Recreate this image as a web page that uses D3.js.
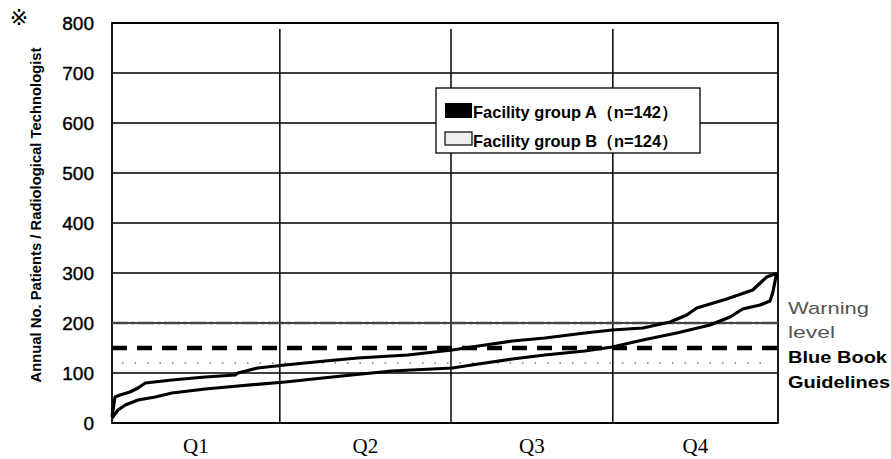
<!DOCTYPE html>
<html><head><meta charset="utf-8">
<script src="https://cdn.jsdelivr.net/npm/d3@7"></script>
<style>body{margin:0;background:#fff}svg{display:block}</style>
</head><body><div id="chart"></div>
<script>
// ---- data ----
const yTicks = [0,100,200,300,400,500,600,700,800];
const quarterLabels = ["Q1","Q2","Q3","Q4"];
const quarterBounds = [25.2, 50.9, 75.2]; // percentile positions of the quartile lines
const groupAPct = [0,0.45,1.2,2.7,3.9,5.0,9.0,14.0,18.5,18.9,21.9,26.0,32.0,36.9,44.4,51.1,55.0,60.1,65.0,71.0,75.1,79.7,83.8,86.3,87.8,92.3,96.2,98.3,99.5,100];
const groupAVal = [12,52,56,62,70,80,86,92,96,100,110,116,124,130,136,146,154,164,170,180,186,190,202,216,230,248,266,292,298,298];
const groupBPct = [0,0.9,2.0,3.9,6.5,9.0,14.0,18.9,26.0,34.5,42.0,51.1,55.0,60.1,65.0,71.0,75.1,79.7,84.8,89.8,92.8,94.7,97.3,98.8,99.2,99.8];
const groupBVal = [10,26,36,46,52,60,68,74,82,94,104,110,118,128,136,144,152,166,180,196,212,228,236,244,260,300];
const legendLabels = ["Facility group A（n=142）","Facility group B（n=124）"];
const warningLevel = 200;
const blueBookLevel = 150;
const bandLevel = 120;

// ---- layout ----
const W = 891, H = 459;
const m = {left:112, right:113, top:23, bottom:36};
const svg = d3.select("#chart").append("svg").attr("width",W).attr("height",H);
const x = d3.scaleLinear().domain([0,100]).range([m.left, W-m.right]);
const y = d3.scaleLinear().domain([0,800]).range([H-m.bottom, m.top]);

// gridlines
svg.append("g").selectAll("line").data(yTicks).join("line")
  .attr("x1",x(0)).attr("x2",x(100)).attr("y1",d=>y(d)).attr("y2",d=>y(d))
  .attr("stroke","#000").attr("stroke-width",1.5);
svg.append("g").selectAll("line").data(quarterBounds).join("line")
  .attr("x1",d=>x(d)).attr("x2",d=>x(d)).attr("y1",y(0)).attr("y2",y(800)+6)
  .attr("stroke","#000").attr("stroke-width",1.5);
svg.append("rect").attr("x",x(0)).attr("y",y(800)).attr("width",x(100)-x(0)).attr("height",y(0)-y(800))
  .attr("fill","none").attr("stroke","#000").attr("stroke-width",1.8);

// y axis labels
const yAxis = d3.axisLeft(y).tickValues(yTicks).tickSize(0).tickPadding(18);
const ya = svg.append("g").attr("transform",`translate(${x(0)},0)`).call(yAxis);
ya.select(".domain").remove();
ya.selectAll("text").attr("font-family","Liberation Sans, Arial, sans-serif").attr("font-size",19).attr("fill","#000").attr("dy","0.35em")
  .attr("stroke","#000").attr("stroke-width",0.4);

// x quarter labels
const qCenters = [0, ...quarterBounds, 100];
svg.append("g").selectAll("text").data(quarterLabels).join("text")
  .attr("x",(d,i)=>(x(qCenters[i])+x(qCenters[i+1]))/2)
  .attr("y",453).attr("text-anchor","middle")
  .attr("font-family","Liberation Serif, Times New Roman, serif").attr("font-size",21).text(d=>d);

// reference lines
svg.append("line").attr("x1",x(0)).attr("x2",x(100)).attr("y1",y(warningLevel)).attr("y2",y(warningLevel))
  .attr("stroke","#444").attr("stroke-width",2.6).attr("stroke-dasharray","16,3,4,3");
svg.append("line").attr("x1",x(0)).attr("x2",x(100)).attr("y1",y(blueBookLevel)).attr("y2",y(blueBookLevel))
  .attr("stroke","#000").attr("stroke-width",4.5).attr("stroke-dasharray","15,10");
svg.append("line").attr("x1",x(0)+10).attr("x2",x(100)-10).attr("y1",y(bandLevel)).attr("y2",y(bandLevel))
  .attr("stroke","#777").attr("stroke-width",1.4).attr("stroke-dasharray","1.5,11");

// curves
const line = d3.line().x(d=>x(d[0])).y(d=>y(d[1])).curve(d3.curveLinear);
const dataA = groupAPct.map((p,i)=>[p,groupAVal[i]]);
const dataB = groupBPct.map((p,i)=>[p,groupBVal[i]]);
svg.append("path").attr("d",line(dataA)).attr("fill","none").attr("stroke","#000").attr("stroke-width",3.2).attr("stroke-linejoin","round");
svg.append("path").attr("d",line(dataB)).attr("fill","none").attr("stroke","#000").attr("stroke-width",3.2).attr("stroke-linejoin","round");

// legend
const lg = svg.append("g");
lg.append("rect").attr("x",436).attr("y",88).attr("width",264).attr("height",65).attr("fill","#fff").attr("stroke","#000").attr("stroke-width",1.3);
lg.append("rect").attr("x",445).attr("y",103).attr("width",27).attr("height",15).attr("fill","#000");
lg.append("rect").attr("x",445).attr("y",132).attr("width",27).attr("height",13).attr("fill","#eee").attr("stroke","#000").attr("stroke-width",1.2);
lg.selectAll("text").data(legendLabels).join("text")
  .attr("x",473).attr("y",(d,i)=>118+i*29)
  .attr("font-family","Liberation Sans, Arial, sans-serif").attr("font-weight","bold").attr("font-size",16.5)
  .attr("textLength",205).attr("lengthAdjust","spacingAndGlyphs").text(d=>d);

// right annotations
const ann = [
  {t:"Warning", y:314, w:81, c:"#555", b:"normal"},
  {t:"level", y:338, w:47, c:"#555", b:"normal"},
  {t:"Blue Book", y:363, w:99, c:"#000", b:"bold"},
  {t:"Guidelines", y:388, w:102, c:"#000", b:"bold"}
];
svg.append("g").selectAll("text").data(ann).join("text")
  .attr("x",788).attr("y",d=>d.y).attr("fill",d=>d.c).attr("font-weight",d=>d.b)
  .attr("font-family","Liberation Sans, Arial, sans-serif").attr("font-size",17)
  .attr("textLength",d=>d.w).attr("lengthAdjust","spacingAndGlyphs").text(d=>d.t);

// y title
svg.append("text").attr("transform","translate(41,215) rotate(-90)").attr("text-anchor","middle")
  .attr("font-family","Liberation Sans, Arial, sans-serif").attr("font-weight","bold").attr("font-size",14.5)
  .attr("textLength",335).attr("lengthAdjust","spacingAndGlyphs")
  .text("Annual No. Patients / Radiological Technologist");
svg.append("text").attr("x",19).attr("y",25).attr("text-anchor","middle")
  .style("font-family","'DejaVu Sans', 'Noto Sans CJK JP', sans-serif").attr("font-size",22).text("※");
</script></body></html>
